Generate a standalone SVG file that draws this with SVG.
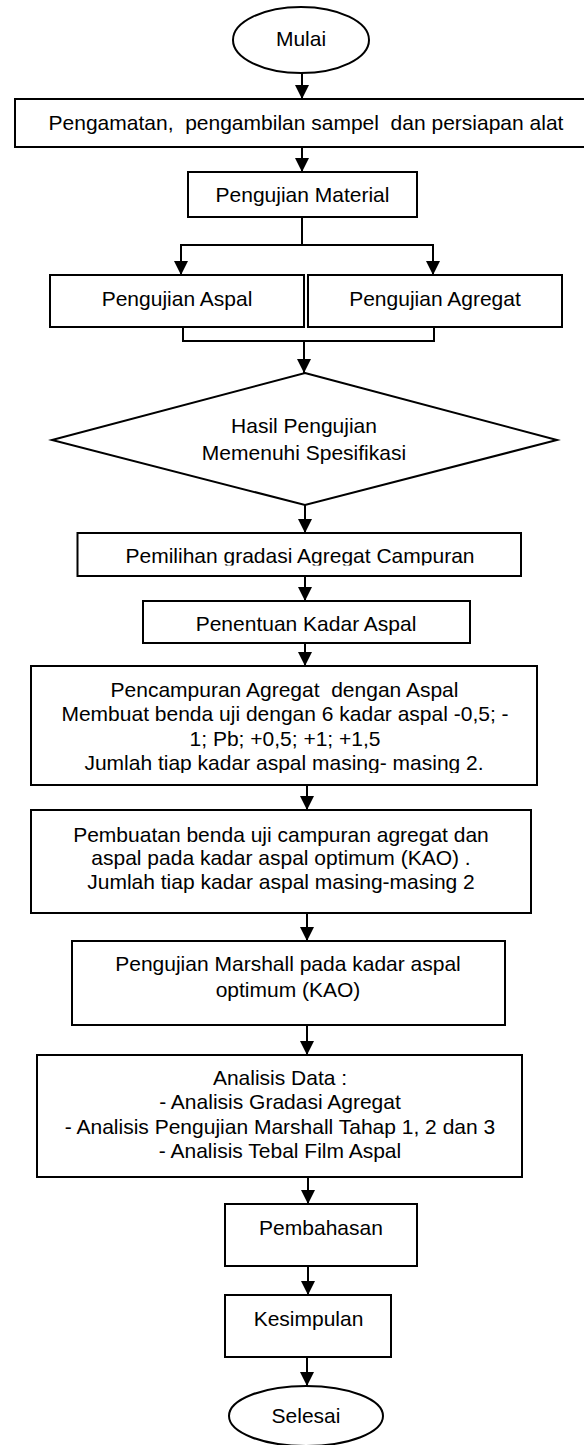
<svg xmlns="http://www.w3.org/2000/svg" width="584" height="1445" viewBox="0 0 584 1445">
<style>
.b{fill:#fff;stroke:#000;stroke-width:2}
.c{fill:none;stroke:#000;stroke-width:2}
.a{fill:none;stroke:#000;stroke-width:2;marker-end:url(#ah)}
text{font-family:"Liberation Sans",Arial,sans-serif;font-size:21px;fill:#000;text-anchor:middle}
</style>
<defs>
<marker id="ah" markerUnits="userSpaceOnUse" markerWidth="14" markerHeight="14" refX="14" refY="7" orient="auto" viewBox="0 0 14 14">
<path d="M0,0 L14,7 L0,14 z" fill="#000"/>
</marker>
<clipPath id="clipPem"><rect x="70" y="530" width="460" height="35.5"/></clipPath>
<clipPath id="clipPen"><rect x="30" y="660" width="510" height="113"/></clipPath>
</defs>
<rect width="584" height="1445" fill="#fff"/>
<g id="connectors">
<path class="a" d="M302,73 V99"/>
<path class="a" d="M302,147 V172"/>
<path class="c" d="M302,217 V245"/>
<path class="a" d="M302,245 H181 V275"/>
<path class="a" d="M302,245 H433 V275"/>
<path class="c" d="M183,327 V341 H434 V327"/>
<path class="a" d="M304,341 V373"/>
<path class="a" d="M305,505 V533"/>
<path class="a" d="M305,576 V601"/>
<path class="a" d="M305,643 V666"/>
<path class="a" d="M307,785 V810"/>
<path class="a" d="M307,913 V941"/>
<path class="a" d="M307,1025 V1055"/>
<path class="a" d="M308,1177 V1204"/>
<path class="a" d="M308,1266 V1295"/>
<path class="a" d="M307,1357 V1386"/>
</g>
<g id="mulai">
<ellipse class="b" cx="301" cy="40" rx="68" ry="33"/>
<text x="301" y="46">Mulai</text>
</g>
<g id="pengamatan">
<rect class="b" x="15" y="99" width="580" height="48"/>
<text x="306" y="130" xml:space="preserve" style="white-space:pre">Pengamatan,  pengambilan sampel  dan persiapan alat</text>
</g>
<g id="material">
<rect class="b" x="188" y="172" width="229" height="45"/>
<text x="302.5" y="202">Pengujian Material</text>
</g>
<g id="aspal">
<rect class="b" x="50" y="275" width="254" height="52"/>
<text x="177" y="306">Pengujian Aspal</text>
</g>
<g id="agregat">
<rect class="b" x="308" y="275" width="254" height="52"/>
<text x="435" y="306">Pengujian Agregat</text>
</g>
<g id="hasil">
<polygon class="b" points="305,373 557,440 305,505 52,440"/>
<text x="304" y="433">Hasil Pengujian</text>
<text x="304" y="460">Memenuhi Spesifikasi</text>
</g>
<g id="pemilihan">
<rect class="b" x="77.5" y="533" width="443.5" height="43"/>
<text x="300" y="562.5" clip-path="url(#clipPem)">Pemilihan gradasi Agregat Campuran</text>
</g>
<g id="penentuan">
<rect class="b" x="143" y="601" width="327" height="42"/>
<text x="306" y="631">Penentuan Kadar Aspal</text>
</g>
<g id="pencampuran">
<rect class="b" x="31" y="666" width="506" height="119"/>
<g clip-path="url(#clipPen)">
<text x="284.5" y="697" xml:space="preserve" style="white-space:pre">Pencampuran Agregat  dengan Aspal</text>
<text x="285" y="721">Membuat benda uji dengan 6 kadar aspal -0,5; -</text>
<text x="285" y="745.5">1; Pb; +0,5; +1; +1,5</text>
<text x="284" y="770">Jumlah tiap kadar aspal masing- masing 2.</text>
</g>
</g>
<g id="pembuatan">
<rect class="b" x="31" y="810" width="500" height="103"/>
<text x="281" y="841.5">Pembuatan benda uji campuran agregat dan</text>
<text x="281" y="865">aspal pada kadar aspal optimum (KAO) .</text>
<text x="281" y="889">Jumlah tiap kadar aspal masing-masing 2</text>
</g>
<g id="marshall">
<rect class="b" x="72" y="941" width="433" height="84"/>
<text x="288" y="971">Pengujian Marshall pada kadar aspal</text>
<text x="288" y="996.5">optimum (KAO)</text>
</g>
<g id="analisis">
<rect class="b" x="37" y="1055" width="485" height="122"/>
<text x="280" y="1085">Analisis Data :</text>
<text x="280" y="1109">- Analisis Gradasi Agregat</text>
<text x="280" y="1133.5">- Analisis Pengujian Marshall Tahap 1, 2 dan 3</text>
<text x="280" y="1158">- Analisis Tebal Film Aspal</text>
</g>
<g id="pembahasan">
<rect class="b" x="225" y="1204" width="192" height="62"/>
<text x="321" y="1235">Pembahasan</text>
</g>
<g id="kesimpulan">
<rect class="b" x="225" y="1295" width="166" height="62"/>
<text x="308.5" y="1325.5">Kesimpulan</text>
</g>
<g id="selesai">
<ellipse class="b" cx="306" cy="1416" rx="77" ry="30"/>
<text x="306" y="1423">Selesai</text>
</g>
</svg>
